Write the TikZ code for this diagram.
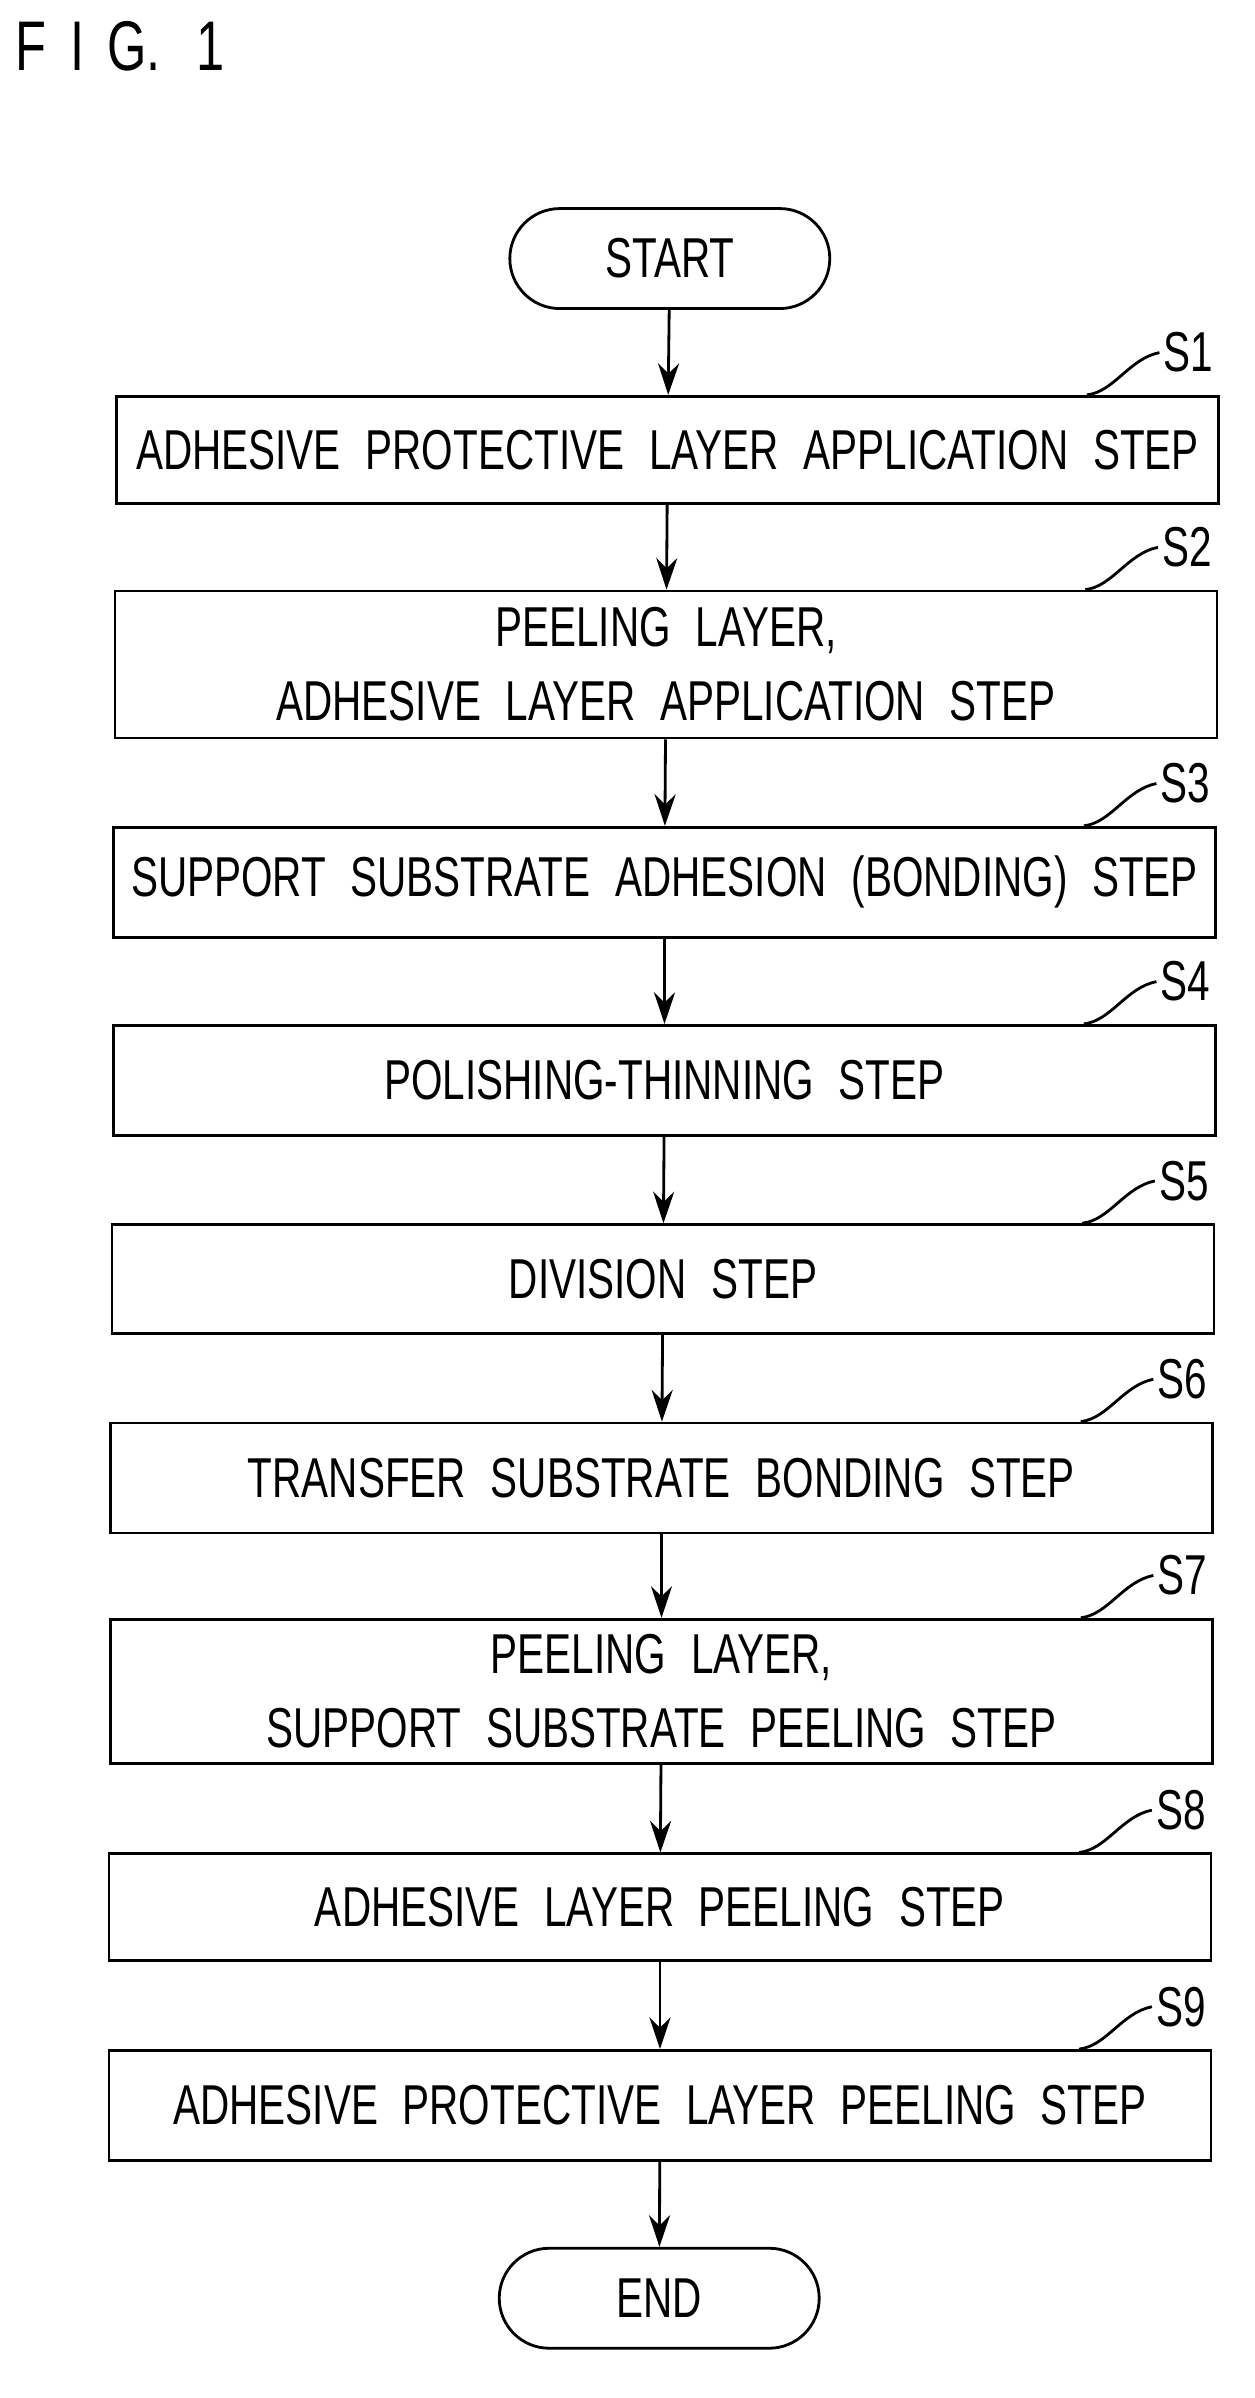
\documentclass[tikz,border=0pt]{standalone}
\usepackage{fontspec}
\setmainfont[FakeStretch=0.72,WordSpace=2.2]{Liberation Sans}
\usetikzlibrary{positioning}
\usetikzlibrary{calc}
\usetikzlibrary{arrows.meta}

\tikzset{
  stepbox/.style={draw, thick, minimum width=11.02cm, align=center, font=\fontsize{16}{21}\selectfont, inner sep=2pt},
  term/.style={draw, thick, rounded corners=0.5cm, minimum width=3.2cm, minimum height=1cm, font=\fontsize{16}{20}\selectfont},
  steplabel/.style={anchor=west, inner sep=1pt, font=\fontsize{16}{20}\selectfont},
  flow/.style={thick, -{Stealth[length=9pt,width=6pt]}}
}

\begin{document}
\begin{tikzpicture}[x=0.01512cm, y=-0.01512cm]

\useasboundingbox (0,0) rectangle (830,1586);

\node[anchor=north west, inner sep=0pt, font=\fontsize{20}{24}\selectfont] (title) at (10,14) {F\,\,I\,\,G.\,\,\,1};

\node[term] (start) at (443,171) {START};
\node[stepbox, minimum height=1.07cm] (s1) at (441.5,297.5) {ADHESIVE PROTECTIVE LAYER APPLICATION STEP};
\node[stepbox, minimum height=1.47cm] (s2) at (440.5,439.5) {PEELING LAYER,\\ADHESIVE LAYER APPLICATION STEP};
\node[stepbox, minimum height=1.10cm] (s3) at (439.5,583.5) {SUPPORT SUBSTRATE ADHESION (BONDING) STEP};
\node[stepbox, minimum height=1.10cm] (s4) at (439.5,714.5) {POLISHING-THINNING STEP};
\node[stepbox, minimum height=1.09cm] (s5) at (438.5,846) {DIVISION STEP};
\node[stepbox, minimum height=1.10cm] (s6) at (437.5,977.5) {TRANSFER SUBSTRATE BONDING STEP};
\node[stepbox, minimum height=1.44cm] (s7) at (437.5,1118.5) {PEELING LAYER,\\SUPPORT SUBSTRATE PEELING STEP};
\node[stepbox, minimum height=1.07cm] (s8) at (436.5,1261.5) {ADHESIVE LAYER PEELING STEP};
\node[stepbox, minimum height=1.10cm] (s9) at (436.5,1392.5) {ADHESIVE PROTECTIVE LAYER PEELING STEP};
\node[term] (end) at (436,1520) {END};

% step numbers
\foreach \n in {1,...,9} {
  \node[steplabel] (l\n) at ($(s\n.north east)+(-40,-28)$) {S\n};
  \draw[thick] ($(s\n.north east)+(-88,0)$) .. controls ($(s\n.north east)+(-70,-2)$) and ($(s\n.north east)+(-60,-24)$) .. (l\n.west);
}

% arrows
\draw[flow] (start) -- (s1);
\foreach \a/\b in {s1/s2,s2/s3,s3/s4,s4/s5,s5/s6,s6/s7,s7/s8,s8/s9}
  \draw[flow] (\a) -- (\b);
\draw[flow] (s9) -- (end);

\end{tikzpicture}
\end{document}
